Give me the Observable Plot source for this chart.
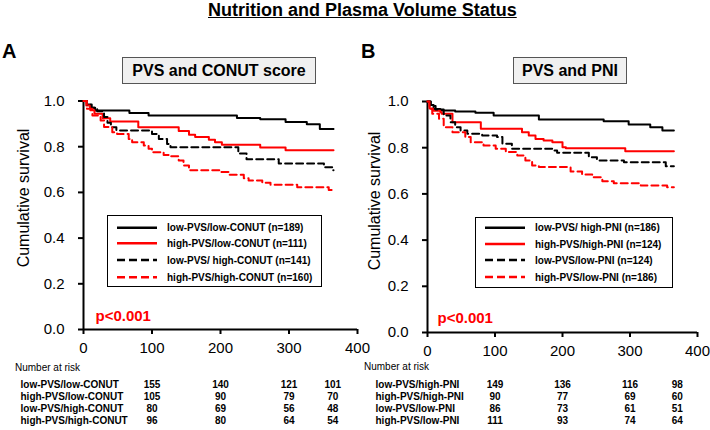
<!DOCTYPE html>
<html><head><meta charset="utf-8">
<script src="https://cdn.jsdelivr.net/npm/d3@7"></script>
<script src="https://cdn.jsdelivr.net/npm/@observablehq/plot@0.6"></script>
<style>
body{margin:0;background:#fff}
#c{position:relative;width:710px;height:430px;font-family:"Liberation Sans",Arial,sans-serif;color:#000;overflow:hidden;background:#fff}
.abs{position:absolute;white-space:nowrap}
.box{position:absolute;box-sizing:border-box;background:#f0f0f0;border:1px solid #555;font-weight:bold;font-size:16px;display:flex;align-items:center;justify-content:center}
.leg{position:absolute;box-sizing:border-box;background:#fff;border:1.5px solid #000}
.ylab{position:absolute;width:200px;text-align:center;font-size:16px;line-height:18px;transform:rotate(-90deg);transform-origin:center}
svg{overflow:visible}
</style></head><body><div id="c"></div>
<script>
// ---------- DATA ----------
const title = "Nutrition and Plasma Volume Status";
const xTicks = [0, 100, 200, 300, 400];
const yTicks = [0, 0.2, 0.4, 0.6, 0.8, 1.0];

// Panel A: PVS and CONUT score  ([day, cumulative survival])
const A_lowPVS_lowCONUT = [[0,1.0],[5,0.985],[10,0.97],[17,0.958],[67,0.948],[95,0.936],[224,0.926],[258,0.92],[295,0.908],[326,0.898],[345,0.878],[365,0.878]];
const A_highPVS_lowCONUT = [[0,1.0],[4,0.98],[10,0.96],[16,0.944],[28,0.925],[39,0.91],[80,0.885],[139,0.869],[154,0.852],[163,0.842],[183,0.83],[192,0.82],[202,0.808],[258,0.797],[295,0.784],[365,0.784]];
const A_lowPVS_highCONUT = [[0,1.0],[5,0.985],[12,0.97],[20,0.955],[30,0.93],[35,0.905],[40,0.885],[48,0.871],[100,0.856],[110,0.834],[122,0.812],[127,0.798],[226,0.77],[238,0.745],[285,0.727],[351,0.71],[363,0.697],[365,0.697]];
const A_highPVS_highCONUT = [[0,1.0],[5,0.966],[13,0.936],[25,0.915],[30,0.886],[42,0.863],[49,0.856],[66,0.834],[71,0.82],[88,0.805],[95,0.791],[100,0.776],[117,0.764],[127,0.758],[139,0.74],[146,0.718],[154,0.697],[200,0.689],[212,0.677],[234,0.662],[241,0.652],[261,0.642],[273,0.633],[312,0.623],[358,0.611],[365,0.611]];

// Panel B: PVS and PNI
const B_lowPVS_highPNI = [[0,1.0],[4,0.985],[9,0.968],[19,0.961],[41,0.957],[71,0.951],[98,0.939],[165,0.922],[261,0.915],[298,0.9],[330,0.889],[348,0.874],[365,0.874]];
const B_highPVS_highPNI = [[0,1.0],[3,0.97],[8,0.96],[19,0.954],[21,0.947],[37,0.91],[79,0.882],[140,0.867],[150,0.853],[160,0.838],[172,0.831],[185,0.824],[200,0.802],[205,0.798],[293,0.785],[365,0.785]];
const B_lowPVS_lowPNI = [[0,1.0],[5,0.98],[12,0.965],[24,0.939],[34,0.91],[41,0.889],[49,0.874],[59,0.86],[81,0.853],[103,0.846],[111,0.817],[125,0.795],[187,0.788],[192,0.778],[239,0.759],[251,0.745],[291,0.737],[353,0.72],[365,0.72]];
const B_highPVS_lowPNI = [[0,1.0],[3,0.968],[7,0.947],[17,0.925],[24,0.889],[37,0.867],[56,0.846],[64,0.824],[83,0.81],[101,0.795],[116,0.781],[133,0.766],[145,0.745],[155,0.723],[165,0.716],[212,0.697],[229,0.684],[244,0.672],[259,0.655],[276,0.646],[316,0.636],[355,0.629],[365,0.629]];

const legendA = ["low-PVS/low-CONUT (n=189)","high-PVS/low-CONUT (n=111)","low-PVS/ high-CONUT (n=141)","high-PVS/high-CONUT (n=160)"];
const legendB = ["low-PVS/ high-PNI (n=186)","high-PVS/high-PNI (n=124)","low-PVS/low-PNI (n=124)","high-PVS/low-PNI (n=186)"];

const riskLabelsA = ["low-PVS/low-CONUT","high-PVS/low-CONUT","low-PVS/high-CONUT","high-PVS/high-CONUT"];
const riskLabelsB = ["low-PVS/high-PNI","high-PVS/high-PNI","low-PVS/low-PNI","high-PVS/low-PNI"];
const riskTimesA = [100, 200, 300, 364];
const riskTimesB = [100, 200, 300, 370];
const riskA = [[155,140,121,101],[105,90,79,70],[80,69,56,48],[96,80,64,54]];
const riskB = [[149,136,116,98],[90,77,69,60],[86,73,61,51],[111,93,74,64]];

const pValue = "p<0.001";
const styles = [
  {color:"#000000", dash:null},
  {color:"#ff0000", dash:null},
  {color:"#000000", dash:"7,4"},
  {color:"#ff0000", dash:"7,4"}
];

// ---------- LAYOUT ----------
const c = document.getElementById("c");
function div(cls, html, css){const d=document.createElement("div");d.className=cls;d.innerHTML=html;Object.assign(d.style,css);c.appendChild(d);return d;}

div("abs", title, {left:"208px", top:"1px", fontSize:"18px", lineHeight:"18px", fontWeight:"bold", textDecoration:"underline"});
div("abs", "A", {left:"2px", top:"41px", fontSize:"20px", lineHeight:"20px", fontWeight:"bold"});
div("abs", "B", {left:"361px", top:"41px", fontSize:"20px", lineHeight:"20px", fontWeight:"bold"});
div("box", "PVS and CONUT score", {left:"122px", top:"57px", width:"194px", height:"27px"});
div("box", "PVS and PNI", {left:"513px", top:"57px", width:"114px", height:"27px"});
div("ylab", "Cumulative survival", {left:(24-100)+"px", top:(198-9)+"px"});
div("ylab", "Cumulative survival", {left:(375-100)+"px", top:(201-9)+"px"});
div("abs", "Number at risk", {left:"15px", top:"362px", fontSize:"10px", lineHeight:"12px"});
div("abs", "Number at risk", {left:"364px", top:"361px", fontSize:"10px", lineHeight:"12px"});

function survPlot(series, o){
  const marks = [
    Plot.ruleY([0], {strokeWidth:2}),
    Plot.ruleX([0], {strokeWidth:2}),
    Plot.axisX({ticks:xTicks, tickSize:5, tickPadding:8, strokeWidth:2, fontSize:15, label:null, tickFormat:d3.format("d")}),
    Plot.axisY({ticks:yTicks, tickSize:5, tickPadding:14, strokeWidth:2, fontSize:15, label:null, tickFormat:d3.format(".1f")}),
    ...series.map((s,i)=>Plot.line(s, {x:d=>d[0], y:d=>d[1], curve:"step-after", stroke:styles[i].color, strokeWidth:2, strokeDasharray:styles[i].dash ?? undefined})),
    Plot.text([pValue], {frameAnchor:"bottom-left", dx:o.pdx, dy:o.pdy, text:d=>d, fill:"#ff0000", fontWeight:"bold", fontSize:15, textAnchor:"start", lineAnchor:"bottom"})
  ];
  const p = Plot.plot({
    width:o.width, height:270,
    marginLeft:o.mL, marginRight:o.mR, marginTop:o.mT, marginBottom:o.mB,
    x:{domain:[0,400]}, y:{domain:[0,1]},
    style:{fontFamily:'"Liberation Sans",Arial,sans-serif', fontSize:"15px", background:"transparent", overflow:"visible", color:"#000"},
    marks
  });
  p.style.position="absolute"; p.style.left=o.left+"px"; p.style.top="90px";
  c.appendChild(p);
}
survPlot([A_lowPVS_lowCONUT, A_highPVS_lowCONUT, A_lowPVS_highCONUT, A_highPVS_highCONUT], {left:0, width:370, mL:83, mR:13, mT:10.5, mB:31, pdx:12, pdy:-9});
survPlot([B_lowPVS_highPNI, B_highPVS_highPNI, B_lowPVS_lowPNI, B_highPVS_lowPNI], {left:360, width:350, mL:67, mR:13, mT:11, mB:28, pdx:10, pdy:-10});

function legend(labels, o){
  const d = div("leg", "", {left:o.left+"px", top:o.top+"px", width:o.w+"px", height:o.h+"px"});
  const ns="http://www.w3.org/2000/svg";
  const s=document.createElementNS(ns,"svg"); s.setAttribute("width",o.w); s.setAttribute("height",o.h);
  s.style.position="absolute"; s.style.left="-1.5px"; s.style.top="-1.5px";
  labels.forEach((t,i)=>{
    const y=o.rows[i];
    const l=document.createElementNS(ns,"line");
    l.setAttribute("x1",10);l.setAttribute("x2",50);l.setAttribute("y1",y);l.setAttribute("y2",y);
    l.setAttribute("stroke",styles[i].color);l.setAttribute("stroke-width",2.5);
    if(styles[i].dash) l.setAttribute("stroke-dasharray","8,4");
    s.appendChild(l);
    const tx=document.createElementNS(ns,"text");
    tx.setAttribute("x",60);tx.setAttribute("y",y);tx.setAttribute("dy","0.35em");
    tx.setAttribute("font-size",10);tx.setAttribute("font-weight","bold");
    tx.setAttribute("font-family",'"Liberation Sans",Arial,sans-serif');
    tx.textContent=t; s.appendChild(tx);
  });
  d.appendChild(s);
}
legend(legendA, {left:107, top:215, w:215, h:72, rows:[12.7,28.3,45,62.3]});
legend(legendB, {left:475, top:217, w:198, h:71, rows:[10.7,27,43,60]});

function riskTable(labels, times, counts, o){
  const data = [];
  labels.forEach((lab,i)=>times.forEach((t,j)=>data.push({lab, t, n:counts[i][j]})));
  const p = Plot.plot({
    width:o.width, height:60, marginLeft:0, marginRight:0, marginTop:0, marginBottom:0,
    x:{domain:[0,400], range:o.xr, axis:null},
    y:{type:"point", domain:labels, range:[13.3,50.5], padding:0, axis:null},
    style:{fontFamily:'"Liberation Sans",Arial,sans-serif', background:"transparent", overflow:"visible", color:"#000"},
    marks:[
      Plot.text(labels, {y:d=>d, text:d=>d, frameAnchor:"left", dx:o.ldx, textAnchor:"start", fontSize:10, fontWeight:"bold"}),
      Plot.text(data, {x:"t", y:"lab", text:d=>String(d.n), fontSize:10, fontWeight:"bold"})
    ]
  });
  p.style.position="absolute"; p.style.left=o.left+"px"; p.style.top="370px";
  c.appendChild(p);
}
riskTable(riskLabelsA, riskTimesA, riskA, {left:0, width:370, xr:[83,357], ldx:20});
riskTable(riskLabelsB, riskTimesB, riskB, {left:360, width:350, xr:[67,337], ldx:15});
</script></body></html>
